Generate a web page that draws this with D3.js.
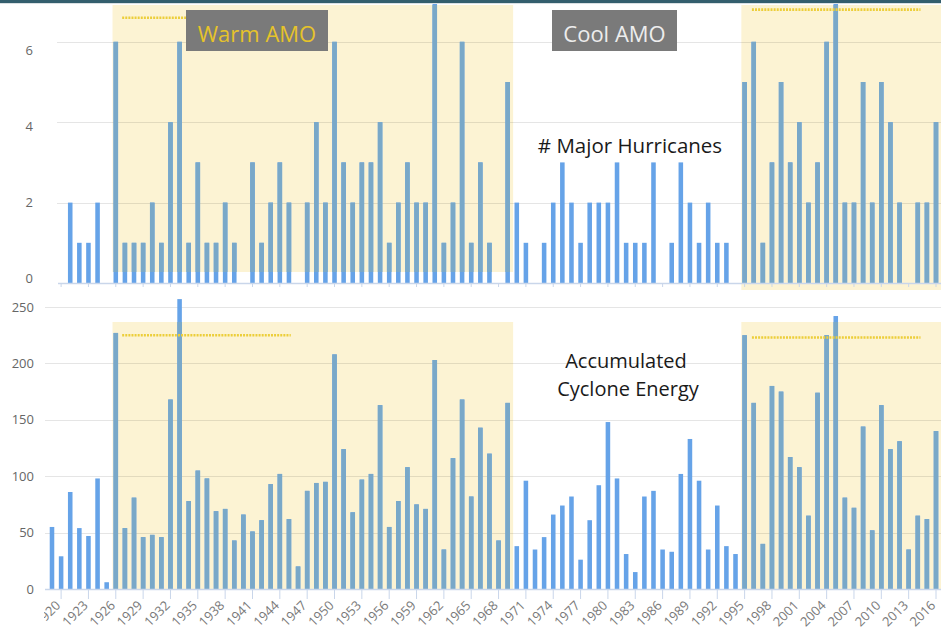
<!DOCTYPE html>
<html>
<head>
<meta charset="utf-8">
<script src="https://cdn.jsdelivr.net/npm/d3@7"></script>
<style>
  html, body { margin: 0; padding: 0; background: #fff; }
  svg { display: block; font-family: "Open Sans", sans-serif; }
</style>
</head>
<body>
<svg id="chart" width="941" height="634"></svg>
<script>
// Atlantic seasons, one entry per year
const firstYear = 1919;
const lastYear = 2016;
const years = d3.range(firstYear, lastYear + 1);

// Number of major hurricanes per season
const majorHurricanes = [
  0, 0, 2, 1, 1, 2, 0, 6, 1, 1,
  1, 2, 1, 4, 6, 1, 3, 1, 1, 2,
  1, 0, 3, 1, 2, 3, 2, 0, 2, 4,
  2, 6, 3, 2, 3, 3, 4, 1, 2, 3,
  2, 2, 7, 1, 2, 6, 1, 3, 1, 0,
  5, 2, 1, 0, 1, 2, 3, 2, 1, 2,
  2, 2, 3, 1, 1, 1, 3, 0, 1, 3,
  2, 1, 2, 1, 1, 0, 5, 6, 1, 3,
  5, 3, 4, 2, 3, 6, 7, 2, 2, 5,
  2, 5, 4, 2, 0, 2, 2, 4
];

// Accumulated Cyclone Energy per season
const aceValues = [
  55, 29, 86, 54, 47, 98, 6, 227, 54, 81,
  46, 48, 46, 168, 257, 78, 105, 98, 69, 71,
  43, 66, 51, 61, 93, 102, 62, 20, 87, 94,
  95, 208, 124, 68, 97, 102, 163, 55, 78, 108,
  75, 71, 203, 35, 116, 168, 82, 143, 120, 43,
  165, 38, 96, 35, 46, 66, 74, 82, 26, 61,
  92, 148, 98, 31, 15, 82, 87, 35, 33, 102,
  133, 96, 35, 74, 38, 31, 225, 165, 40, 180,
  175, 117, 108, 65, 174, 225, 242, 81, 72, 144,
  52, 163, 124, 131, 35, 65, 62, 140
];

// Warm phases of the Atlantic Multidecadal Oscillation (first, last season)
const warmPhases = [[1926, 1969], [1995, 2016]];

// Dotted reference markers: [from year, to year, level]
const hurricaneMarkers = [[1926.7, 1945.2, 6.6], [1995.8, 2014.3, 6.8]];
const aceMarkers = [[1926.7, 1945.2, 225], [1995.8, 2014.3, 223]];

const hurricaneTicks = [0, 2, 4, 6];
const aceTicks = [0, 50, 100, 150, 200, 250];
const labelYears = years.filter(y => (y - 1920) % 3 === 0 && y >= 1920);

const W = 941, H = 634;
const svg = d3.select("#chart");
const defs = svg.append("defs");

const barColor = "#66a3e8";
const shadedBarColor = "#79a8c8";
const shadeColor = "#fcf3d3";
const axisColor = "#c9d6ea";
const markerColor = "#ecce3a";

// Shared year scale, bars centred on each season
const x = d3.scaleBand()
  .domain(years)
  .range([47.44, 940.56])
  .paddingInner(0.5)
  .paddingOuter(0.25);
const step = x.step();
const cx = y => x(y) + x.bandwidth() / 2;
// continuous year position for fractional years
const xYear = d3.scaleLinear().domain([firstYear, lastYear]).range([cx(firstYear), cx(lastYear)]);

const shadeX0 = d => x(d[0]) - 1;
const shadeX1 = d => Math.min(W, x(d[1]) + step * 0.85);

// Draws one panel: shading, grid, bars (tinted where shaded), axis
function panel(g, id, values, y, gridX0, shadeTop, shadeBottoms, axisX0, tickLen) {
  const data = years.map((yr, i) => ({ year: yr, v: values[i] })).filter(d => d.v > 0);
  const shadeRect = sel => sel
    .attr("x", shadeX0)
    .attr("y", shadeTop)
    .attr("width", d => shadeX1(d) - shadeX0(d))
    .attr("height", (d, i) => shadeBottoms[i] - shadeTop);

  g.append("g").selectAll("rect").data(warmPhases).join("rect")
    .call(shadeRect).attr("fill", shadeColor);

  defs.append("clipPath").attr("id", id)
    .selectAll("rect").data(warmPhases).join("rect").call(shadeRect);

  g.append("g").selectAll("line")
    .data(y.tickVals.filter(t => t > 0))
    .join("line")
    .attr("x1", gridX0).attr("x2", W)
    .attr("y1", d => Math.round(y(d)) + 0.5).attr("y2", d => Math.round(y(d)) + 0.5)
    .attr("stroke", "#000").attr("stroke-opacity", 0.1);

  const drawBars = (sel, color) => sel.selectAll("rect").data(data).join("rect")
    .attr("x", d => x(d.year))
    .attr("width", x.bandwidth())
    .attr("y", d => y(d.v))
    .attr("height", d => y(0) - y(d.v))
    .attr("fill", color);

  drawBars(g.append("g"), barColor);
  drawBars(g.append("g").attr("clip-path", `url(#${id})`), shadedBarColor);

  g.append("line")
    .attr("x1", axisX0).attr("x2", W)
    .attr("y1", y(0) + 0.5).attr("y2", y(0) + 0.5)
    .attr("stroke", axisColor).attr("stroke-width", 1.5);
  g.append("g").selectAll("line").data(labelYears).join("line")
    .attr("x1", d => cx(d)).attr("x2", d => cx(d))
    .attr("y1", y(0)).attr("y2", y(0) + tickLen)
    .attr("stroke", axisColor);
}

// ---------- Upper panel: major hurricanes ----------
const yTop = d3.scaleLinear().domain([0, 7]).range([283, 1.6]);
yTop.tickVals = hurricaneTicks;
const yTopLabel = d3.scaleLinear().domain([0, 6]).range([278, 50]);
const upper = svg.append("g");
panel(upper, "shadeUpper", majorHurricanes, yTop, 57, 5, [272, 290], 58, 4);

upper.append("g").selectAll("line")
  .data(hurricaneMarkers)
  .join("line")
  .attr("x1", d => xYear(d[0])).attr("x2", d => xYear(d[1]))
  .attr("y1", d => yTop(d[2])).attr("y2", d => yTop(d[2]))
  .attr("stroke", markerColor).attr("stroke-width", 2.6)
  .attr("stroke-dasharray", "2,1.1");

upper.append("g").selectAll("text")
  .data(hurricaneTicks)
  .join("text")
  .attr("x", 33)
  .attr("y", d => yTopLabel(d))
  .attr("dy", "0.35em")
  .attr("text-anchor", "end")
  .attr("font-size", 13)
  .attr("fill", "#666")
  .text(d => d);

// ---------- Lower panel: ACE ----------
const yBot = d3.scaleLinear().domain([0, 250]).range([589, 307]);
yBot.tickVals = aceTicks;
const lower = svg.append("g");
panel(lower, "shadeLower", aceValues, yBot, 45, 322, [589, 589], 45, 10);

lower.append("g").selectAll("line")
  .data(aceMarkers)
  .join("line")
  .attr("x1", d => xYear(d[0])).attr("x2", d => xYear(d[1]))
  .attr("y1", d => yBot(d[2])).attr("y2", d => yBot(d[2]))
  .attr("stroke", markerColor).attr("stroke-width", 2.6)
  .attr("stroke-dasharray", "2,1.1");

lower.append("g").selectAll("text")
  .data(aceTicks)
  .join("text")
  .attr("x", 34)
  .attr("y", d => yBot(d))
  .attr("dy", "0.35em")
  .attr("text-anchor", "end")
  .attr("font-size", 13)
  .attr("fill", "#666")
  .text(d => d);

defs.append("clipPath").attr("id", "xlabClip")
  .append("rect").attr("x", 44).attr("y", 590).attr("width", W - 44).attr("height", 44);

lower.append("g").attr("clip-path", "url(#xlabClip)").selectAll("text")
  .data(labelYears)
  .join("text")
  .attr("transform", d => `translate(${cx(d) - 3},${yBot(0) + 14}) rotate(-45)`)
  .attr("text-anchor", "end")
  .attr("dy", "0.35em")
  .attr("font-size", 13)
  .attr("fill", "#7a7a7a")
  .text(d => d);

// ---------- Annotations ----------
const boxes = [
  { text: "Warm AMO", x: 186, w: 142, color: "#e6c32a" },
  { text: "Cool AMO", x: 552, w: 125, color: "#ededed" }
];
const ann = svg.append("g");
ann.selectAll("rect")
  .data(boxes)
  .join("rect")
  .attr("x", d => d.x).attr("y", 10)
  .attr("width", d => d.w).attr("height", 41)
  .attr("fill", "#7a7a7a");
ann.selectAll("text")
  .data(boxes)
  .join("text")
  .attr("x", d => d.x + d.w / 2)
  .attr("y", 41.5)
  .attr("text-anchor", "middle")
  .attr("font-size", 22)
  .attr("fill", d => d.color)
  .text(d => d.text);

svg.append("text")
  .attr("x", 630).attr("y", 153)
  .attr("text-anchor", "middle")
  .attr("font-size", 20.5)
  .attr("fill", "#1a1a1a")
  .text("# Major Hurricanes");

svg.append("text")
  .attr("x", 626).attr("y", 368)
  .attr("text-anchor", "middle")
  .attr("font-size", 20)
  .attr("fill", "#1a1a1a")
  .text("Accumulated");
svg.append("text")
  .attr("x", 628).attr("y", 396)
  .attr("text-anchor", "middle")
  .attr("font-size", 20)
  .attr("fill", "#1a1a1a")
  .text("Cyclone Energy");

// frame edge along the top
svg.append("rect").attr("x", 0).attr("y", 0).attr("width", W).attr("height", 3).attr("fill", "#335e6d");
svg.append("line").attr("x1", 0).attr("x2", W).attr("y1", 3.5).attr("y2", 3.5).attr("stroke", "#d9e0e3");
</script>
</body>
</html>
